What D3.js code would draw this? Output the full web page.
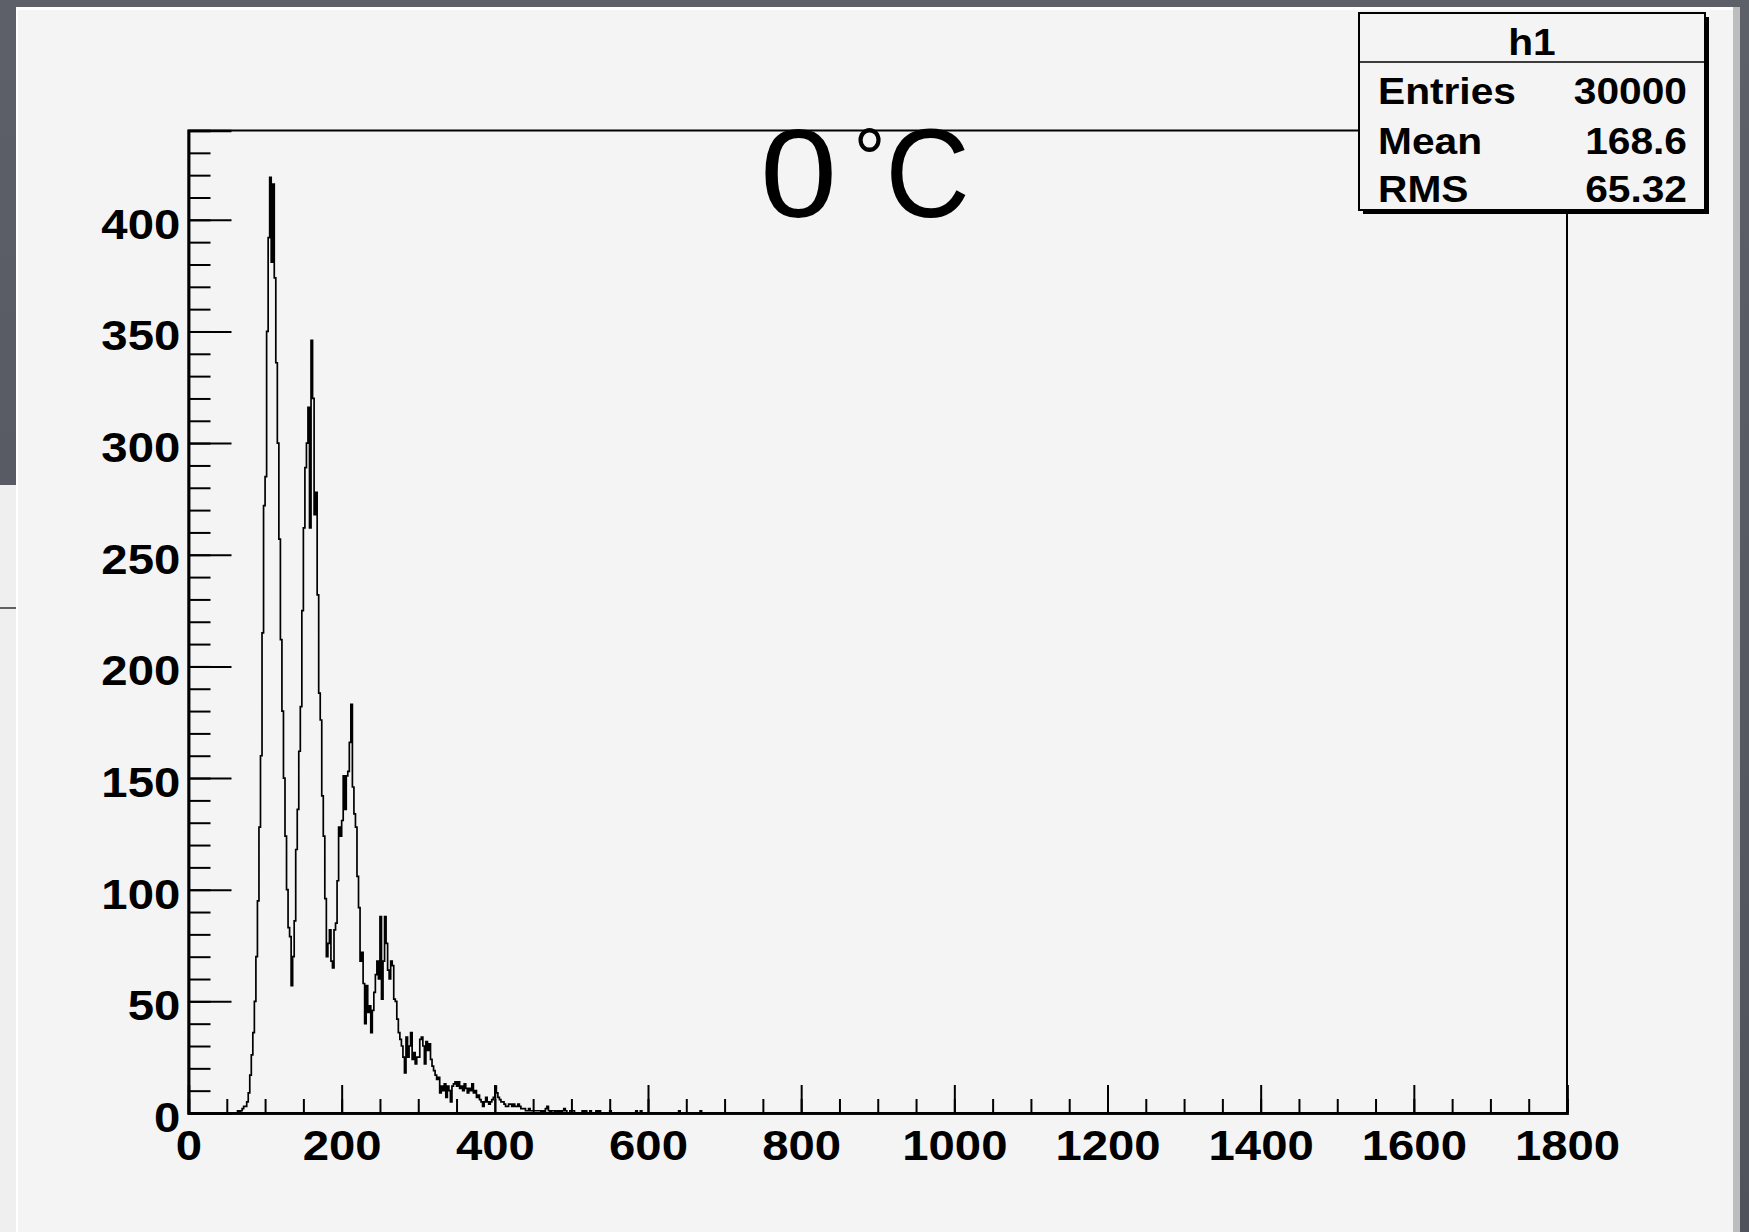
<!DOCTYPE html>
<html>
<head>
<meta charset="utf-8">
<script src="https://cdn.jsdelivr.net/npm/d3@7"></script>
<style>
  body { margin: 0; background: #575a63; }
  svg { display: block; }
</style>
</head>
<body>
<div id="chart"></div>
<script>
// histogram h1, bins of width 2 starting at 60 (everything else is empty)
const binStart = 60;
const binWidth = 2;
const counts = [
  0, 0, 1, 0, 1, 2, 3, 3, 5, 9,
  17, 26, 36, 50, 70, 95, 128, 160, 215, 272,
  285, 350, 392, 419, 381, 416, 374, 336, 300, 257,
  212, 180, 150, 124, 100, 83, 79, 57, 70, 86,
  118, 136, 162, 182, 225, 262, 289, 300, 316, 262,
  346, 320, 268, 278, 232, 188, 176, 142, 124, 96,
  70, 76, 82, 68, 65, 82, 85, 104, 128, 124,
  131, 151, 136, 151, 153, 166, 183, 146, 134, 128,
  106, 92, 68, 72, 58, 40, 57, 45, 48, 36,
  46, 54, 62, 68, 60, 88, 51, 68, 88, 76,
  64, 60, 68, 66, 51, 50, 42, 36, 33, 30,
  25, 18, 34, 25, 30, 36, 24, 27, 22, 25,
  25, 33, 34, 30, 22, 32, 28, 31, 24, 21,
  19, 17, 15, 16, 9, 12, 10, 13, 7, 12,
  10, 5, 12, 13, 14, 12, 14, 11, 12, 10,
  13, 11, 9, 11, 10, 13, 9, 10, 7, 8,
  6, 5, 3, 5, 7, 5, 4, 5, 6, 7,
  12, 9, 7, 6, 5, 5, 4, 3, 3, 4,
  4, 3, 4, 3, 3, 4, 3, 2, 2, 2,
  1, 1, 2, 1, 1, 1, 1, 1, 1, 1,
  0, 1, 0, 2, 3, 1, 0, 1, 1, 0,
  1, 0, 1, 0, 1, 2, 1, 0, 0, 1,
  1, 1, 0, 0, 0, 0, 0, 1, 0, 1,
  0, 0, 1, 0, 0, 0, 1, 0, 1, 0,
  0, 0, 0, 0, 0, 1, 0, 0, 0, 0,
  0, 0, 0, 0, 0, 0, 0, 0, 0, 0,
  0, 0, 1, 0, 0, 1, 0, 0, 0, 0,
  0, 0, 0, 0, 0, 0, 0, 0, 0, 0,
  0, 0, 0, 0, 0, 0, 0, 0, 0, 0,
  1, 0, 0, 0, 0, 0, 0, 0, 0, 0,
  0, 0, 0, 0, 1, 0, 0, 0, 0, 0
];

const xDomain = [0, 1800];
const yDomain = [0, 440];
const xMajorTicks = [0, 200, 400, 600, 800, 1000, 1200, 1400, 1600, 1800];
const yMajorTicks = [0, 50, 100, 150, 200, 250, 300, 350, 400];

const titleNumber = "0";
const titleUnit = ["°", "C"];
const statsTitle = "h1";
const statsNames = ["Entries", "Mean", "RMS"];
const statsValues = ["30000", "168.6", "65.32"];

// layout
const W = 1749, H = 1232;
const frame = {left: 188.5, right: 1567, top: 130.5, bottom: 1113};
const font = "'Liberation Sans', Arial, Helvetica, sans-serif";
const stretch = 1.1;   // the screenshot is a bit wide

let svg = d3.select('#chart').append('svg')
    .attr('width', W)
    .attr('height', H);

// ---- slide / window background
let bg = svg.append('defs').append('linearGradient')
    .attr('id', 'slate').attr('x1', 0).attr('x2', 0).attr('y1', 0).attr('y2', 1);
bg.append('stop').attr('offset', 0).attr('stop-color', '#5d6069');
bg.append('stop').attr('offset', 1).attr('stop-color', '#50535b');

svg.append('rect').attr('width', W).attr('height', H).attr('fill', 'url(#slate)');
// window behind, lower left
svg.append('rect').attr('x', 0).attr('y', 485).attr('width', 18).attr('height', H - 485).attr('fill', '#efefef');
svg.append('line').attr('x1', 0).attr('x2', 16).attr('y1', 608).attr('y2', 608).attr('stroke', '#333').attr('stroke-width', 1.5);
// canvas
svg.append('rect').attr('x', 16).attr('y', 7).attr('width', 1724).attr('height', H - 7).attr('fill', '#bdbdbd');
svg.append('rect').attr('x', 16).attr('y', 7).attr('width', 1717).attr('height', H - 7).attr('fill', '#ffffff');
svg.append('rect').attr('x', 18).attr('y', 10).attr('width', 1715).attr('height', H - 10).attr('fill', '#f4f4f4');

// ---- scales and axes
let x = d3.scaleLinear().domain(xDomain).range([frame.left, frame.right]);
let y = d3.scaleLinear().domain(yDomain).range([frame.bottom, frame.top]);

let plot = svg.append('g');

// frame
plot.append('rect')
    .attr('x', frame.left).attr('y', frame.top)
    .attr('width', frame.right - frame.left)
    .attr('height', frame.bottom - frame.top)
    .attr('fill', 'none')
    .attr('stroke', '#000')
    .attr('stroke-width', 2);

// histogram outline
let pts = [{x: xDomain[0], v: 0}];
counts.forEach((c, i) => pts.push({x: binStart + i * binWidth, v: c}));
pts.push({x: binStart + counts.length * binWidth, v: 0});
pts.push({x: xDomain[1], v: 0});

let line = d3.line()
    .x(d => x(d.x))
    .y(d => y(d.v))
    .curve(d3.curveStepAfter);

plot.append('path')
    .datum(pts)
    .attr('d', line)
    .attr('fill', 'none')
    .attr('stroke', '#000')
    .attr('stroke-width', 1.7);

// minor ticks
let xMinor = d3.axisBottom(x).tickValues(d3.range(0, 1801, 50)).tickSize(-14).tickFormat('');
let yMinor = d3.axisLeft(y).tickValues(d3.range(0, 441, 10)).tickSize(-22).tickFormat('');

plot.append('g').attr('class', 'x-minor')
    .attr('transform', 'translate(0,' + frame.bottom + ')')
    .call(xMinor);
plot.append('g').attr('class', 'y-minor')
    .attr('transform', 'translate(' + frame.left + ',0)')
    .call(yMinor);

// major ticks with labels
let xAxis = d3.axisBottom(x).tickValues(xMajorTicks).tickSize(-28).tickPadding(16.5).tickFormat(d3.format('d'));
let yAxis = d3.axisLeft(y).tickValues(yMajorTicks).tickSize(-43).tickPadding(7.5).tickFormat(d3.format('d'));

plot.append('g').attr('class', 'x-axis')
    .attr('transform', 'translate(0,' + frame.bottom + ')')
    .call(xAxis);
plot.append('g').attr('class', 'y-axis')
    .attr('transform', 'translate(' + frame.left + ',0)')
    .call(yAxis);

plot.selectAll('.domain').attr('stroke', '#000').attr('stroke-width', 2.5);
plot.selectAll('.tick line').attr('stroke', '#000').attr('stroke-width', 2);
plot.selectAll('.x-axis text, .y-axis text')
    .attr('font-family', font)
    .attr('font-weight', 'bold')
    .attr('font-size', 43)
    .attr('fill', '#000');
plot.selectAll('.y-axis text')
    .attr('dy', '0.43em')
    .attr('transform', 'scale(' + stretch + ',1)');
plot.selectAll('.x-axis text')
    .attr('transform', 'scale(' + stretch + ',1)');

// ---- title
function label(parent, px, py, str, size, weight, anchor, sx){
    return parent.append('text')
        .attr('transform', 'translate(' + px + ',' + py + ') scale(' + (sx || stretch) + ',1)')
        .attr('font-family', font)
        .attr('font-size', size)
        .attr('font-weight', weight)
        .attr('text-anchor', anchor)
        .attr('fill', '#000')
        .text(str);
}

label(svg, 798.5, 217, titleNumber, 126, 'normal', 'middle');
// degree sign and C share one text element, the ring sits small and high
let unit = label(svg, 853.7, 217, '', 126, 'normal', 'start', 0.93);
unit.append('tspan').attr('font-size', 85).attr('dy', -29).text(titleUnit[0]);
unit.append('tspan').attr('dy', 29).text(titleUnit[1]);

// ---- stats box
let box = {x: 1359, y: 13, w: 346, h: 197, split: 62};
let stats = svg.append('g');
stats.append('rect')
    .attr('x', box.x + 4).attr('y', box.y + 4)
    .attr('width', box.w).attr('height', box.h)
    .attr('fill', '#000');
stats.append('rect')
    .attr('x', box.x).attr('y', box.y)
    .attr('width', box.w).attr('height', box.h)
    .attr('fill', '#f4f4f4')
    .attr('stroke', '#000')
    .attr('stroke-width', 2);
stats.append('line')
    .attr('x1', box.x).attr('x2', box.x + box.w)
    .attr('y1', box.split).attr('y2', box.split)
    .attr('stroke', '#000').attr('stroke-width', 1.5);

label(stats, box.x + box.w / 2, 55, statsTitle, 37, 'bold', 'middle');
let rowY = [104, 154, 202];
statsNames.forEach((n, i) => {
    label(stats, box.x + 19, rowY[i], n, 37, 'bold', 'start');
    label(stats, box.x + box.w - 18, rowY[i], statsValues[i], 37, 'bold', 'end');
});
</script>
</body>
</html>
